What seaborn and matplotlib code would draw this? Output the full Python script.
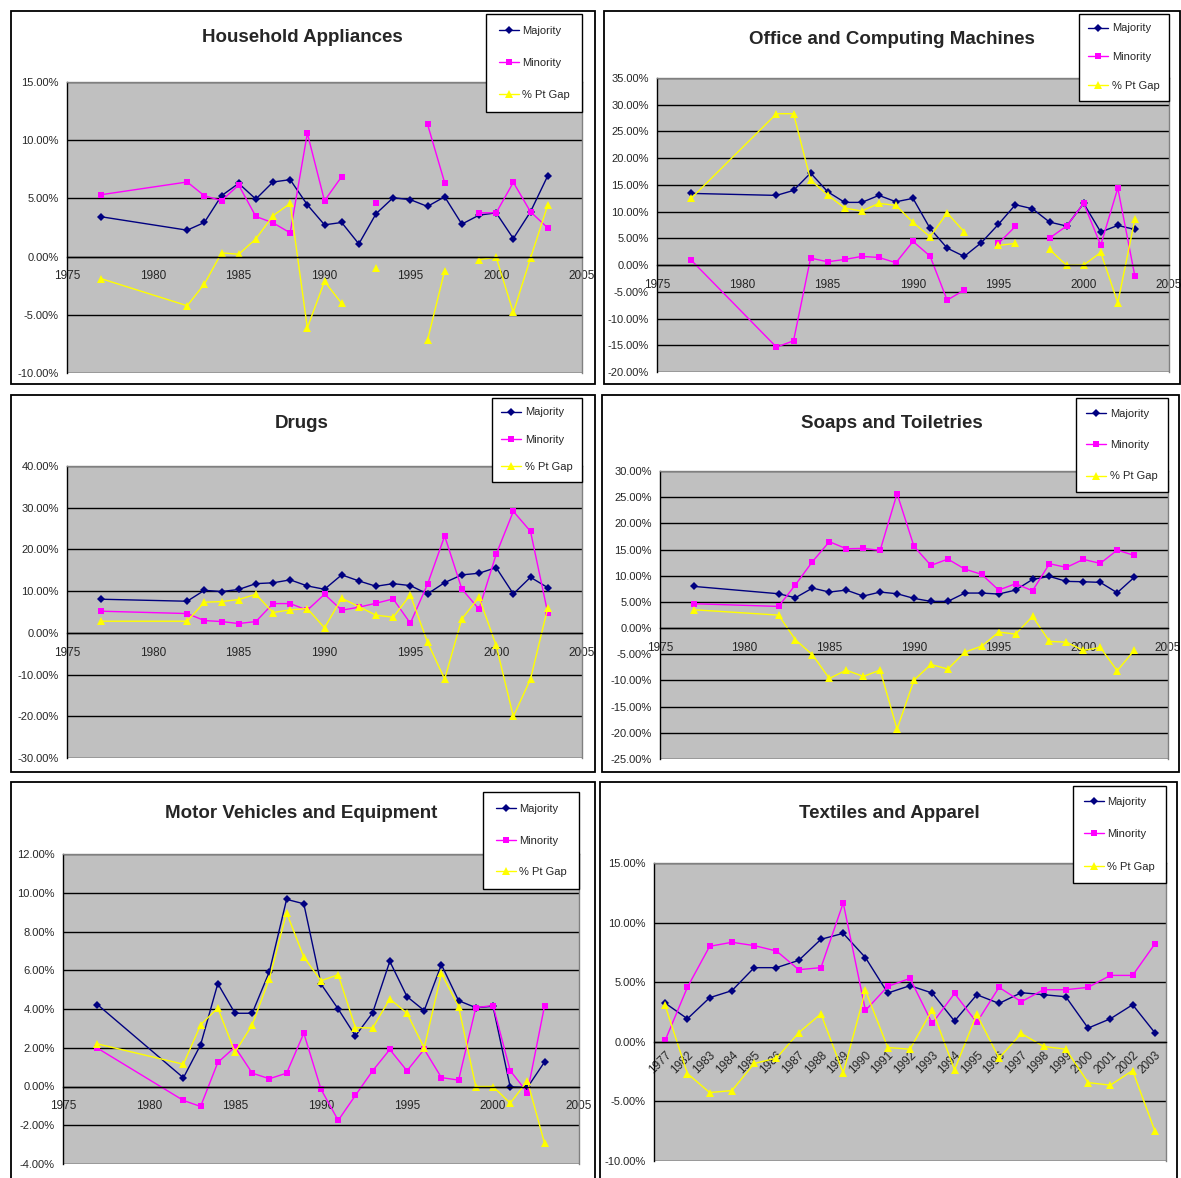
import numpy as np
import pandas as pd
import matplotlib
matplotlib.use("Agg")
import matplotlib.pyplot as plt
import seaborn as sns
from matplotlib.lines import Line2D
from matplotlib.patches import Rectangle
from matplotlib.ticker import FuncFormatter, MultipleLocator, FixedLocator

nan = np.nan

# Years (the Textiles chart uses them as categories)
years = [1977, 1982, 1983, 1984, 1985, 1986, 1987, 1988, 1989, 1990, 1991, 1992,
         1993, 1994, 1995, 1996, 1997, 1998, 1999, 2000, 2001, 2002, 2003]

# Household Appliances (%)
hh_major = [3.42, 2.27, 2.93, 5.23, 6.29, 4.94, 6.41, 6.61, 4.45, 2.73, 2.93, 1.09,
            3.68, 5.06, 4.89, 4.31, 5.14, 2.79, 3.56, 3.76, 1.55, 3.85, 6.93]
hh_minor = [5.32, 6.41, 5.23, 4.80, 6.15, 3.45, 2.90, 2.04, 10.6, 4.80, 6.87, nan,
            4.60, nan, nan, 11.38, 6.35, nan, 3.76, 3.76, 6.38, 3.85, 2.47]
hh_gap = [-1.90, -4.22, -2.36, 0.32, 0.20, 1.52, 3.51, 4.57, -6.12, -2.13, -4.02, nan,
          -0.95, nan, nan, -7.18, -1.21, nan, -0.26, -0.06, -4.80, -0.14, 4.40]

# Office and Computing Machines (%)
oc_major = [13.41, 13.04, 13.97, 17.22, 13.72, 11.73, 11.73, 13.04, 11.85, 12.48, 6.86, 3.18,
            1.62, 4.18, 7.61, 11.29, 10.54, 8.05, 7.30, 11.54, 6.18, 7.42, 6.67]
oc_minor = [0.94, -15.35, -14.16, 1.31, 0.62, 1.06, 1.62, 1.43, 0.44, 4.43, 1.68, -6.55,
            -4.68, nan, 4.05, 7.24, nan, 5.05, 7.30, 11.54, 3.74, 14.41, -2.06]
oc_gap = [12.48, 28.32, 28.32, 15.91, 13.10, 10.67, 10.11, 11.54, 11.17, 7.98, 5.30, 9.73,
          6.24, nan, 3.68, 4.05, nan, 2.93, -0.06, 0.0, 2.37, -7.05, 8.55]

# Drugs (%)
dr_major = [8.06, 7.58, 10.2, 9.9, 10.4, 11.8, 12.0, 12.7, 11.25, 10.45, 13.9, 12.45,
            11.17, 11.8, 11.33, 9.34, 12.05, 13.9, 14.29, 15.64, 9.34, 13.33, 10.85]
dr_minor = [5.19, 4.63, 2.95, 2.71, 2.23, 2.71, 7.02, 7.02, 5.43, 9.26, 5.43, 6.15,
            7.10, 8.14, 2.31, 11.65, 23.22, 10.53, 5.67, 18.83, 29.13, 24.34, 4.87]
dr_gap = [2.79, 2.79, 7.34, 7.50, 7.98, 9.26, 4.87, 5.51, 5.83, 1.20, 8.30, 6.30,
          4.23, 3.75, 9.10, -2.23, -11.09, 3.35, 8.54, -3.03, -20.03, -11.09, 5.91]

# Soaps and Toiletries (%)
sp_major = [7.96, 6.56, 5.80, 7.64, 6.88, 7.26, 6.11, 6.88, 6.56, 5.67, 5.10, 5.10,
            6.69, 6.69, 6.50, 7.26, 9.30, 9.87, 8.92, 8.85, 8.73, 6.75, 9.68]
sp_minor = [4.65, 4.14, 8.28, 12.68, 16.5, 15.16, 15.22, 14.84, 25.67, 15.6, 11.97, 13.18,
            11.27, 10.25, 7.26, 8.47, 7.13, 12.29, 11.59, 13.12, 12.36, 14.9, 13.89]
sp_gap = [3.50, 2.48, -2.23, -5.10, -9.62, -8.03, -9.24, -8.03, -19.3, -9.94, -6.94, -7.83,
          -4.59, -3.44, -0.76, -1.15, 2.23, -2.55, -2.68, -4.27, -3.69, -8.15, -4.27]

# Motor Vehicles and Equipment (%)
mv_major = [4.23, 0.45, 2.15, 5.31, 3.78, 3.78, 5.93, 9.66, 9.43, 5.29, 4.00, 2.61,
            3.80, 6.46, 4.64, 3.92, 6.29, 4.43, 4.07, 4.14, -0.02, -0.05, 1.27]
mv_minor = [1.98, -0.72, -1.03, 1.24, 2.04, 0.69, 0.40, 0.69, 2.75, -0.14, -1.75, -0.46,
            0.81, 1.91, 0.81, 1.92, 0.46, 0.33, 4.07, 4.18, 0.82, -0.31, 4.18]
mv_gap = [2.20, 1.15, 3.18, 4.05, 1.77, 3.18, 5.57, 8.97, 6.68, 5.46, 5.77, 3.04,
          3.02, 4.52, 3.78, 1.99, 5.84, 4.12, 0.0, 0.0, -0.86, 0.29, -2.94]

# Textiles and Apparel (%)
tx_major = [3.25, 1.93, 3.70, 4.29, 6.22, 6.22, 6.83, 8.60, 9.10, 7.06, 4.09, 4.71,
            4.09, 1.74, 3.95, 3.22, 4.12, 3.95, 3.78, 1.15, 1.93, 3.11, 0.76]
tx_minor = [0.11, 4.57, 8.01, 8.35, 8.07, 7.62, 6.05, 6.22, 11.65, 2.63, 4.65, 5.32,
            1.54, 4.06, 1.62, 4.57, 3.36, 4.37, 4.37, 4.57, 5.57, 5.57, 8.21]
tx_gap = [3.05, -2.66, -4.26, -4.09, -1.82, -1.37, 0.76, 2.35, -2.63, 4.31, -0.48, -0.62,
          2.69, -2.35, 2.30, -1.37, 0.70, -0.39, -0.62, -3.42, -3.64, -2.41, -7.48]

series_names = ["Majority", "Minority", "% Pt Gap"]
colors = {"Majority": "#000080", "Minority": "#FF00FF", "% Pt Gap": "#FFFF00"}
markers = {"Majority": "D", "Minority": "s", "% Pt Gap": "^"}
msizes = {"D": 4.2, "s": 5.0, "^": 5.6}

W, H = 1181, 1178
sns.set_style("white")
plt.rcParams["font.family"] = ["Liberation Sans", "DejaVu Sans"]

fig = plt.figure(figsize=(W / 100, H / 100), dpi=100)


def fbox(l, t, r, b):
    return [l / W, 1 - b / H, (r - l) / W, (b - t) / H]


def long_frame(xs, cols):
    # split each series into unbroken runs so gaps stay open
    rows = []
    for name, vals in zip(series_names, cols):
        seg = 0
        prev = False
        for x, v in zip(xs, vals):
            if np.isnan(v):
                prev = False
                continue
            if not prev:
                seg += 1
            prev = True
            rows.append({"x": x, "value": v, "series": name, "seg": f"{name}-{seg}"})
    return pd.DataFrame(rows)


# leg = (right px, top px, labelspacing, borderpad)
panels = [
    dict(title="Household Appliances", box=(11, 11, 595, 384), plot=(67, 82, 582, 373),
         tpos=(302, 38), ylim=(-10, 15), ystep=5, leg=(582, 14, 1.97, 1.1), data=(hh_major, hh_minor, hh_gap)),
    dict(title="Office and Computing Machines", box=(604, 11, 1180, 384), plot=(657, 78, 1169, 372),
         tpos=(892, 39), ylim=(-20, 35), ystep=5, leg=(1169, 14, 1.7, 0.85), data=(oc_major, oc_minor, oc_gap)),
    dict(title="Drugs", box=(11, 395, 595, 772), plot=(67, 466, 582, 758),
         tpos=(302, 423), ylim=(-30, 40), ystep=10, leg=(582, 398, 1.57, 0.85), data=(dr_major, dr_minor, dr_gap)),
    dict(title="Soaps and Toiletries", box=(602, 395, 1179, 772), plot=(660, 471, 1168, 759),
         tpos=(892, 423), ylim=(-25, 30), ystep=5, leg=(1168, 398, 1.93, 0.95), data=(sp_major, sp_minor, sp_gap)),
    dict(title="Motor Vehicles and Equipment", box=(11, 782, 595, 1185), plot=(63, 854, 579, 1164),
         tpos=(301, 813), ylim=(-4, 12), ystep=2, leg=(579, 792, 1.93, 1.1), data=(mv_major, mv_minor, mv_gap)),
    dict(title="Textiles and Apparel", box=(600, 782, 1177, 1185), plot=(654, 863, 1166, 1161),
         tpos=(889, 813), ylim=(-10, 15), ystep=5, leg=(1166, 786, 2.0, 1.0), data=(tx_major, tx_minor, tx_gap)),
]

pct = FuncFormatter(lambda v, p: f"{v:.2f}%")

for i, p in enumerate(panels):
    l, t, r, b = p["box"]
    fig.patches.append(Rectangle((l / W, 1 - b / H), (r - l) / W, (b - t) / H,
                                 transform=fig.transFigure, fill=False,
                                 edgecolor="black", linewidth=1.3, zorder=0))
    fig.text(p["tpos"][0] / W, 1 - p["tpos"][1] / H, p["title"], ha="center", va="center",
             fontsize=13.5, fontweight="bold")

    ax = fig.add_axes(fbox(*p["plot"]))
    ax.set_facecolor("#C0C0C0")
    categorical = i == 5
    xs = list(range(len(years))) if categorical else years
    df = long_frame(xs, p["data"])
    sns.lineplot(data=df, x="x", y="value", hue="series", style="series", units="seg",
                 estimator=None, sort=False, palette=colors, markers=markers, dashes=False,
                 hue_order=series_names, style_order=series_names,
                 linewidth=1.0, markersize=4.5, markeredgewidth=0, legend=False, ax=ax)
    for ln in ax.lines:
        mk = ln.get_marker()
        if mk in msizes:
            ln.set_markersize(msizes[mk])

    ax.set_ylim(*p["ylim"])
    ax.yaxis.set_major_locator(MultipleLocator(p["ystep"]))
    ax.yaxis.set_major_formatter(pct)
    ax.set_axisbelow(True)
    ax.yaxis.grid(True, color="black", linewidth=1.0)
    ax.xaxis.grid(False)
    ax.set_xlabel("")
    ax.set_ylabel("")

    for side in ["top", "right"]:
        ax.spines[side].set_color("#808080")
        ax.spines[side].set_linewidth(1.0)
    ax.spines["left"].set_color("black")
    ax.spines["left"].set_linewidth(1.0)
    ax.spines["bottom"].set_position(("data", 0))
    ax.spines["bottom"].set_color("black")
    ax.spines["bottom"].set_linewidth(1.0)

    ax.tick_params(axis="y", direction="out", length=4, width=1, color="black",
                   labelsize=8, pad=2)
    if categorical:
        ax.set_xlim(-0.5, len(years) - 0.5)
        ax.xaxis.set_major_locator(FixedLocator(range(len(years))))
        ax.set_xticklabels([str(y) for y in years], rotation=45, ha="right",
                           va="top", rotation_mode="anchor")
        ax.xaxis.set_minor_locator(FixedLocator(np.arange(-0.5, len(years), 1.0)))
        ax.tick_params(axis="x", which="major", length=0, labelsize=8.5, pad=5)
        ax.tick_params(axis="x", which="minor", direction="out", length=4, width=1, color="black")
    else:
        ax.set_xlim(1975, 2005)
        ax.xaxis.set_major_locator(MultipleLocator(5))
        ax.xaxis.set_major_formatter(FuncFormatter(lambda v, q: f"{int(v)}"))
        ax.tick_params(axis="x", direction="out", length=4, width=1, color="black",
                       labelsize=8.5, pad=6)

    handles = [Line2D([], [], color=colors[n], marker=markers[n], markersize=msizes[markers[n]],
                      markeredgewidth=0, linewidth=1.0) for n in series_names]
    lx, ly, spacing, bpad = p["leg"]
    leg = ax.legend(handles, series_names, loc="upper right",
                    bbox_to_anchor=(lx / W, 1 - ly / H), bbox_transform=fig.transFigure,
                    borderaxespad=0, frameon=True, fancybox=False, framealpha=1,
                    edgecolor="black", labelspacing=spacing, handlelength=1.8,
                    handletextpad=0.3, borderpad=bpad, prop={"size": 8})
    leg.get_frame().set_linewidth(1.0)

fig.savefig("out.png", dpi=100, facecolor="white")
